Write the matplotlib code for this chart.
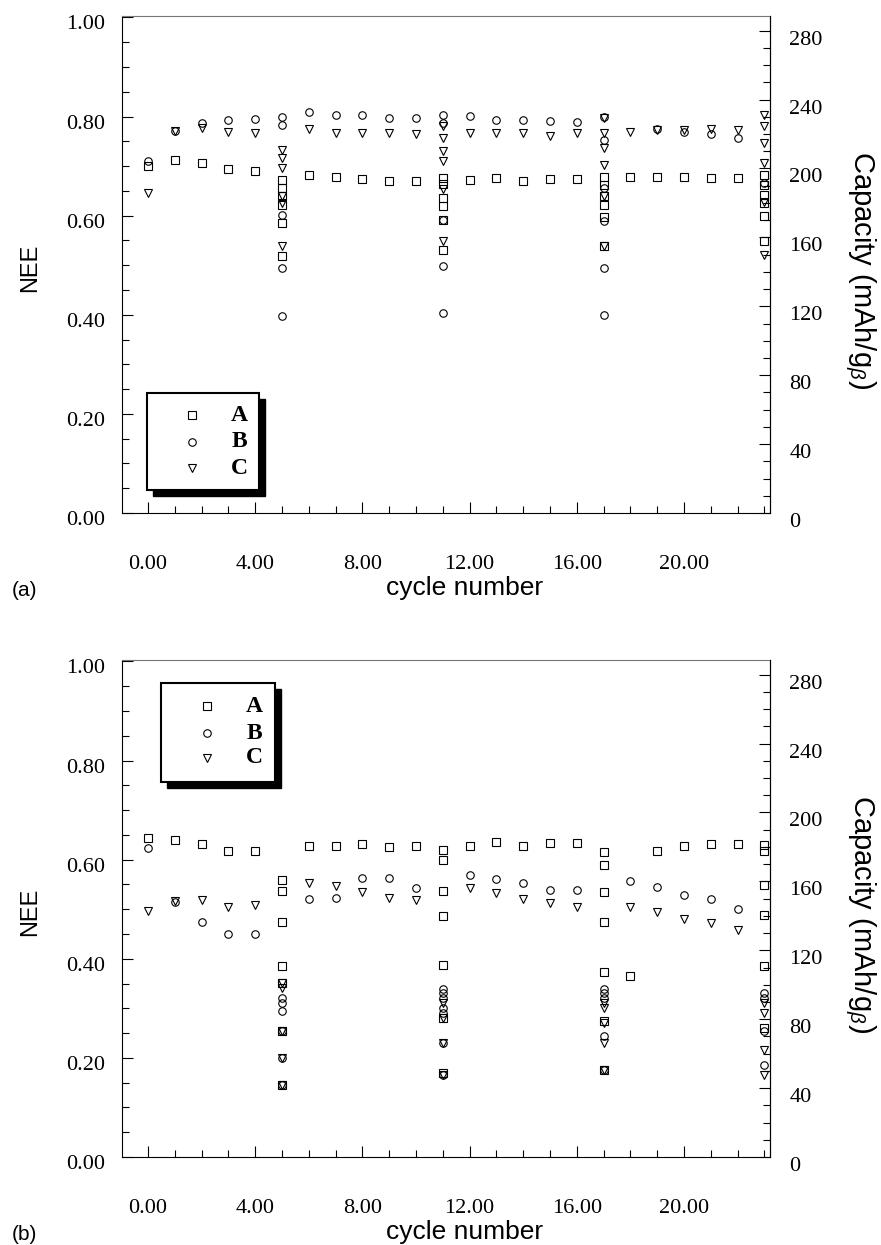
import numpy as np
import matplotlib
matplotlib.use('Agg')
import matplotlib.pyplot as plt
from matplotlib.patches import Rectangle
from matplotlib.ticker import MultipleLocator, FixedLocator, FormatStrFormatter
from matplotlib.transforms import ScaledTranslation

plt.rcParams['font.family'] = ['Liberation Serif', 'DejaVu Serif']
plt.rcParams['mathtext.fontset'] = 'custom'
plt.rcParams['mathtext.rm'] = 'Liberation Sans'
plt.rcParams['mathtext.it'] = 'Liberation Sans:italic'

# ---- data (NEE) ----
cycles = [0, 1, 2, 3, 4, 6, 7, 8, 9, 10, 12, 13, 14, 15, 16, 18, 19, 20, 21, 22]
test_cycles = [5, 11, 17, 23]
series_names = ['A', 'B', 'C']

# panel (a)
a_top = [0.700, 0.712, 0.706, 0.694, 0.691, 0.683, 0.679, 0.674, 0.671, 0.671,
         0.673, 0.676, 0.671, 0.674, 0.674, 0.679, 0.679, 0.678, 0.676, 0.676]
b_top = [0.710, 0.770, 0.787, 0.793, 0.796, 0.809, 0.803, 0.804, 0.797, 0.797,
         0.802, 0.794, 0.793, 0.791, 0.789, np.nan, 0.775, 0.768, 0.764, 0.757]
c_top = [0.646, 0.770, 0.777, 0.769, 0.767, 0.774, 0.767, 0.767, 0.766, 0.764,
         0.766, 0.767, 0.766, 0.760, 0.767, 0.769, 0.773, 0.772, 0.775, 0.772]
a_top_tests = [[0.673, 0.656, 0.639, 0.622, 0.585, 0.518],
               [0.676, 0.664, 0.636, 0.619, 0.592, 0.531],
               [0.678, 0.661, 0.639, 0.622, 0.597, 0.538],
               [0.683, 0.661, 0.642, 0.625, 0.600, 0.548]]
b_top_tests = [[0.800, 0.784, 0.602, 0.494, 0.397],
               [0.804, 0.787, 0.592, 0.498, 0.403],
               [0.800, 0.752, 0.655, 0.590, 0.494, 0.400],
               [0.665]]
c_top_tests = [[0.733, 0.717, 0.697, 0.639, 0.625, 0.538],
               [0.780, 0.757, 0.730, 0.710, 0.653, 0.548],
               [0.797, 0.767, 0.737, 0.703, 0.639, 0.538],
               [0.804, 0.780, 0.747, 0.706, 0.628, 0.521]]

# panel (b)
a_bot = [0.644, 0.640, 0.632, 0.617, 0.617, 0.627, 0.627, 0.632, 0.626, 0.627,
         0.628, 0.636, 0.628, 0.634, 0.634, 0.365, 0.618, 0.627, 0.632, 0.632]
b_bot = [0.624, 0.515, 0.475, 0.450, 0.450, 0.521, 0.523, 0.563, 0.563, 0.543,
         0.570, 0.561, 0.553, 0.539, 0.539, 0.556, 0.545, 0.529, 0.521, 0.501]
c_bot = [0.496, 0.516, 0.519, 0.504, 0.509, 0.553, 0.546, 0.534, 0.523, 0.519,
         0.543, 0.533, 0.521, 0.513, 0.504, 0.504, 0.494, 0.480, 0.473, 0.459]
a_bot_tests = [[0.560, 0.536, 0.474, 0.386, 0.351, 0.255, 0.145],
               [0.620, 0.600, 0.536, 0.487, 0.388, 0.280, 0.170],
               [0.616, 0.590, 0.534, 0.474, 0.374, 0.275, 0.175],
               [0.630, 0.617, 0.549, 0.489, 0.386, 0.260]]
b_bot_tests = [[0.321, 0.310, 0.294, 0.255, 0.200, 0.145],
               [0.340, 0.330, 0.320, 0.300, 0.290, 0.230, 0.165],
               [0.340, 0.330, 0.320, 0.245, 0.175],
               [0.330, 0.320, 0.255, 0.185]]
c_bot_tests = [[0.351, 0.341, 0.255, 0.200, 0.145],
               [0.310, 0.280, 0.230, 0.165],
               [0.310, 0.300, 0.270, 0.230, 0.175],
               [0.310, 0.290, 0.215, 0.165]]

markers = ['s', 'o', 'v']
msizes = [5.2, 5.4, 5.6]

W, H = 881, 1245
fig = plt.figure(figsize=(W / 100, H / 100), dpi=100)


def px_axes(left, top, right, bottom):
    return fig.add_axes([left / W, 1 - bottom / H, (right - left) / W, (bottom - top) / H])


def shift(labels, dy_px):
    off = ScaledTranslation(0, -dy_px / 100, fig.dpi_scale_trans)
    for lab in labels:
        lab.set_transform(lab.get_transform() + off)


def draw_panel(ax, series, tests, legend_box):
    for vals, tst, mk, ms in zip(series, tests, markers, msizes):
        xs = list(cycles) + [tc for tc, vs in zip(test_cycles, tst) for _ in vs]
        ys = list(vals) + [v for vs in tst for v in vs]
        ax.plot(xs, ys, ls='none', marker=mk, ms=ms, mfc='none', mec='black', mew=0.8)

    ax.set_xlim(-0.97, 23.21)
    ax.set_ylim(0, 1.003)
    ax.xaxis.set_major_locator(FixedLocator([0, 4, 8, 12, 16, 20]))
    ax.xaxis.set_minor_locator(FixedLocator(range(0, 24)))
    ax.yaxis.set_major_locator(FixedLocator([0, 0.2, 0.4, 0.6, 0.8, 1.0]))
    ax.yaxis.set_minor_locator(MultipleLocator(0.05))
    ax.xaxis.set_major_formatter(FormatStrFormatter('%.2f'))
    ax.yaxis.set_major_formatter(FormatStrFormatter('%.2f'))
    ax.tick_params(which='both', direction='in', labelsize=16, width=0.8, top=False, right=False)
    ax.tick_params(which='major', length=8)
    ax.tick_params(which='minor', length=5)
    ax.tick_params(axis='x', pad=30)
    ax.tick_params(axis='y', pad=12)
    for sp in ax.spines.values():
        sp.set_linewidth(0.8)
    ax.spines['top'].set_color('#777777')
    shift(ax.get_yticklabels(), 5)

    ax2 = ax.twinx()
    ax2.set_ylim(0, 288.5)
    ax2.yaxis.set_major_locator(FixedLocator(range(0, 281, 40)))
    ax2.yaxis.set_minor_locator(MultipleLocator(10))
    ax2.tick_params(which='both', direction='in', labelsize=16, width=0.8, pad=14)
    ax2.tick_params(which='major', length=8)
    ax2.tick_params(which='minor', length=5)
    for sp in ax2.spines.values():
        sp.set_visible(False)
    ax2.spines['right'].set_visible(True)
    ax2.spines['right'].set_linewidth(0.8)
    shift(ax2.get_yticklabels(), 7)

    # legend box with drop shadow
    x0, y0, x1, y1, mx, tx, rows = legend_box
    dx, dy = 6 / 648, 6 / 497
    ax.add_patch(Rectangle((x0 + dx, y0 - dy), x1 - x0, y1 - y0, transform=ax.transAxes,
                           facecolor='black', edgecolor='black', zorder=5))
    ax.add_patch(Rectangle((x0, y0), x1 - x0, y1 - y0, transform=ax.transAxes,
                           facecolor='white', edgecolor='black', lw=1.5, zorder=6))
    for name, mk, ms, ry in zip(series_names, markers, msizes, rows):
        ax.plot([mx], [ry], transform=ax.transAxes, ls='none', marker=mk, ms=ms,
                mfc='none', mec='black', mew=0.8, zorder=7, clip_on=False)
        ax.text(tx, ry, name, transform=ax.transAxes, ha='center', va='center',
                fontsize=17, fontweight='bold', zorder=7)


# panel (a)
ax_a = px_axes(122, 16, 770, 513)
draw_panel(ax_a, [a_top, b_top, c_top], [a_top_tests, b_top_tests, c_top_tests],
           (0.0386, 0.0463, 0.2114, 0.2414, 0.108, 0.1806, [0.197, 0.143, 0.0905]))

# panel (b)
ax_b = px_axes(122, 660, 770, 1157)
draw_panel(ax_b, [a_bot, b_bot, c_bot], [a_bot_tests, b_bot_tests, c_bot_tests],
           (0.0602, 0.7545, 0.236, 0.954, 0.131, 0.204, [0.9074, 0.853, 0.803]))

sans = ['Liberation Sans', 'DejaVu Sans']
for top, tag in [(0, '(a)'), (644, '(b)')]:
    fig.text(30 / W, 1 - (268 + top) / H, 'NEE', rotation=90, ha='center', va='center',
             fontsize=17, family=sans)
    fig.text(860 / W, 1 - (270 + top) / H, r'Capacity (mAh/g$_{\beta}$)', rotation=270,
             ha='center', va='center', fontsize=21, family=sans)
    fig.text(465 / W, 1 - (588 + top) / H, 'cycle number', ha='center', va='center',
             fontsize=19, family=sans)
    fig.text(12 / W, 1 - (590 + top) / H, tag, ha='left', va='center', fontsize=15, family=sans)

fig.savefig('out.png', dpi=100)
